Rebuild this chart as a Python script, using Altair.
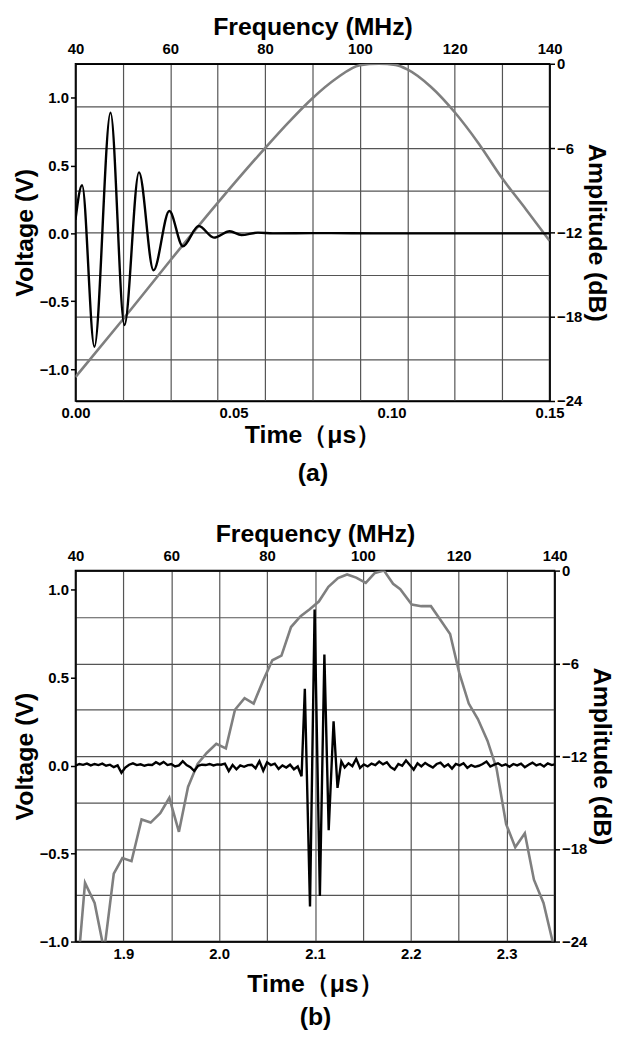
import altair as alt
import pandas as pd

# ---------------- Panel (a) ----------------
# time-domain pulse (time in us, voltage in V)
a_time = [0.0, 0.0021, 0.0060, 0.0111, 0.0155, 0.0201, 0.0247, 0.0297, 0.0340,
          0.0390, 0.0438, 0.0488, 0.0525, 0.0577, 0.0625, 0.075, 0.10, 0.125, 0.15]
a_volt = [0.10, 0.355, -0.835, 0.89, -0.675, 0.45, -0.272, 0.165, -0.095,
          0.054, -0.031, 0.016, -0.012, 0.006, 0.0, 0.002, 0.0, 0.0, 0.0]
# spectrum (frequency in MHz, amplitude in dB)
a_freq = [40, 50, 60, 70, 80, 85, 90, 95, 100, 104, 107.5, 110, 115, 120, 125, 130, 135, 140]
a_db = [-22.3, -18.2, -14.0, -9.9, -6.0, -4.15, -2.45, -1.05, -0.1, 0.0, -0.08, -0.4,
        -1.65, -3.45, -5.65, -8.15, -10.35, -12.6]

# ---------------- Panel (b) ----------------
b_time = [1.850, 1.854, 1.858, 1.862, 1.866, 1.870, 1.874, 1.878, 1.882, 1.886,
          1.890, 1.894, 1.898, 1.902, 1.906, 1.910, 1.914, 1.918, 1.922, 1.926,
          1.930, 1.934, 1.938, 1.942, 1.946, 1.950, 1.954, 1.958, 1.962, 1.966,
          1.970, 1.974, 1.978, 1.982, 1.986, 1.990, 1.994, 1.998, 2.002, 2.006,
          2.010, 2.014, 2.018, 2.022, 2.026, 2.030, 2.034, 2.038, 2.042, 2.046,
          2.050, 2.054, 2.058, 2.062, 2.066, 2.070, 2.074, 2.078, 2.082, 2.086,
          2.0894, 2.0948, 2.0996, 2.1051, 2.1098, 2.1143, 2.1194, 2.1235, 2.1275,
          2.131, 2.135, 2.139, 2.143, 2.147, 2.151, 2.155, 2.159, 2.163, 2.167,
          2.171, 2.175, 2.179, 2.183, 2.187, 2.191, 2.195, 2.199, 2.203, 2.207,
          2.211, 2.215, 2.219, 2.223, 2.227, 2.231, 2.235, 2.239, 2.243, 2.247,
          2.251, 2.255, 2.259, 2.263, 2.267, 2.271, 2.275, 2.279, 2.283, 2.287,
          2.291, 2.295, 2.299, 2.303, 2.307, 2.311, 2.315, 2.319, 2.323, 2.327,
          2.331, 2.335, 2.339, 2.343, 2.347, 2.350]
b_volt = [0.000, 0.010, 0.005, 0.012, 0.002, 0.010, 0.004, 0.012, 0.000, 0.006,
          -0.008, 0.002, -0.040, -0.010, 0.006, 0.014, 0.004, 0.008, 0.000, 0.006,
          0.004, 0.020, 0.008, 0.022, 0.004, 0.010, -0.004, 0.002, 0.026, 0.004,
          -0.008, -0.030, 0.000, 0.006, 0.004, 0.010, 0.002, 0.008, 0.006, 0.012,
          -0.030, 0.004, -0.020, 0.002, -0.006, 0.004, 0.006, -0.014, 0.026, -0.028,
          0.020, 0.004, 0.012, -0.018, 0.002, -0.010, 0.006, -0.020, -0.004, -0.060,
          0.438, -0.800, 0.888, -0.741, 0.632, -0.366, 0.253, -0.126, 0.025,
          -0.010, 0.014, -0.002, 0.040, -0.012, 0.008, -0.004, 0.012, 0.004, 0.024,
          0.008, 0.020, -0.008, -0.022, 0.010, 0.000, 0.030, 0.004, -0.022, 0.014,
          -0.004, 0.016, 0.002, -0.010, 0.010, 0.018, -0.006, 0.008, -0.016, 0.010,
          0.002, 0.014, -0.012, 0.004, -0.006, 0.000, 0.010, 0.024, -0.004, 0.006,
          0.014, 0.000, 0.008, -0.006, 0.010, 0.002, 0.012, -0.008, 0.006, 0.018,
          0.002, 0.010, -0.004, 0.014, 0.004, 0.008]
b_freq = [40.0, 42.0, 44.0, 46.0, 48.0, 49.8, 51.7, 53.8, 55.7, 57.7, 59.6, 61.6,
          63.5, 65.5, 67.4, 69.4, 71.4, 73.3, 75.3, 77.2, 79.2, 81.1, 83.0, 85.0,
          87.0, 88.9, 90.8, 92.8, 94.8, 96.7, 98.6, 100.6, 102.5, 104.4, 106.3,
          107.8, 110.2, 112.2, 114.2, 116.2, 118.2, 120.1, 122.1, 124.0, 126.0,
          127.9, 129.9, 131.8, 133.8, 135.7, 137.7, 139.6, 140.0]
b_db = [-27.5, -20.2, -21.5, -24.6, -19.6, -18.6, -18.8, -16.1, -16.3, -15.7, -14.7,
        -16.9, -14.0, -12.5, -11.8, -11.2, -11.5, -9.0, -8.25, -8.6, -7.1, -5.8, -5.5,
        -3.65, -2.95, -2.5, -2.0, -1.05, -0.48, -0.25, -0.45, -0.8, -0.15, 0.0, -0.85,
        -1.2, -2.2, -2.3, -2.3, -3.2, -4.1, -6.6, -8.6, -9.6, -11.0, -12.8, -16.4,
        -17.9, -17.0, -20.0, -21.5, -24.0, -24.8]

# axis tick positions / labels
volt_ticks = [-1.0, -0.5, 0.0, 0.5, 1.0]
freq_ticks = [40, 50, 60, 70, 80, 90, 100, 110, 120, 130, 140]
db_ticks = [-24, -21, -18, -15, -12, -9, -6, -3, 0]
a_time_ticks = [0.0, 0.025, 0.05, 0.075, 0.10, 0.125, 0.15]
b_time_ticks = [1.85, 1.9, 1.95, 2.0, 2.05, 2.1, 2.15, 2.2, 2.25, 2.3, 2.35]

FONT = "Liberation Sans"
GREY = "#7f7f7f"


def panel(t, v, f, db, tdom, vdom, tticks, tfmt, tlabel_expr, letter, interp, w, h,
          t_title_pad, t_line_h):
    sig = pd.DataFrame({"t": t, "v": v})
    spec = pd.DataFrame({"f": f, "db": db})

    grey = alt.Chart(spec).mark_line(color=GREY, strokeWidth=2.6, clip=True,
                                     interpolate=interp).encode(
        x=alt.X("f:Q", scale=alt.Scale(domain=[40, 140], nice=False, zero=False),
                axis=alt.Axis(orient="top", values=freq_ticks, title="Frequency (MHz)",
                              labelExpr="datum.value % 20 == 0 ? datum.label : ''",
                              grid=True, ticks=False, labelPadding=7, titlePadding=2,
                              labelFlush=False, labelOverlap=False, titleFontSize=25)),
        y=alt.Y("db:Q", scale=alt.Scale(domain=[-24, 0], nice=False, zero=False),
                axis=alt.Axis(orient="right", values=db_ticks, title="Amplitude (dB)",
                              labelExpr="datum.value % 6 == 0 ? datum.label : ''",
                              grid=True, tickSize=5,
                              tickOpacity={"condition": {"test": "datum.value % 6 == 0", "value": 1}, "value": 0},
                              labelPadding=2, titlePadding=2,
                              labelFlush=False, labelOverlap=False, titleFontSize=25)),
    )

    black = alt.Chart(sig).mark_line(color="black", strokeWidth=2.4, clip=True,
                                     interpolate=interp).encode(
        x=alt.X("t:Q", scale=alt.Scale(domain=tdom, nice=False, zero=False),
                axis=alt.Axis(orient="bottom", values=tticks, format=tfmt,
                              labelExpr=tlabel_expr, title=["Time（μs）", letter],
                              grid=False, ticks=False, labelPadding=5,
                              titlePadding=t_title_pad, titleLineHeight=t_line_h,
                              labelFlush=False, labelOverlap=False, titleFontSize=25)),
        y=alt.Y("v:Q", scale=alt.Scale(domain=vdom, nice=False, zero=False),
                axis=alt.Axis(orient="left", values=volt_ticks, format=".1f",
                              title="Voltage (V)", grid=False, tickSize=5,
                              labelPadding=2, titlePadding=2, labelFlush=False,
                              labelOverlap=False, titleFontSize=25)),
    )

    return alt.layer(grey, black).resolve_scale(x="independent", y="independent") \
        .properties(width=w, height=h)


pa = panel(a_time, a_volt, a_freq, a_db, [0.0, 0.15], [-1.235, 1.25], a_time_ticks, ".2f",
           "abs(datum.value * 20 - round(datum.value * 20)) < 1e-6 ? datum.label : ''",
           "(a)", "monotone", 478, 340, 2, 38)
pb = panel(b_time, b_volt, b_freq, b_db, [1.85, 2.35], [-1.0, 1.11], b_time_ticks, ".1f",
           "abs(datum.value * 10 - round(datum.value * 10)) < 1e-6 ? datum.label : ''",
           "(b)", "linear", 483, 374, 10, 34)

chart = alt.vconcat(pa, pb, spacing=35).properties(
    padding={"left": 3, "top": 2, "right": 4, "bottom": 2},
    background="white",
).configure_view(
    stroke="black", strokeWidth=1.5
).configure_axis(
    labelFont=FONT, labelFontWeight="bold", labelFontSize=15, labelColor="black",
    titleFont=FONT, titleFontWeight="bold", titleColor="black",
    domainColor="black", domainWidth=1.5, tickColor="black", tickWidth=1.5,
    gridColor="#555555", gridWidth=1.2, gridOpacity=1,
)

chart.save("out.html", embed_options={"renderer": "svg", "actions": False})
